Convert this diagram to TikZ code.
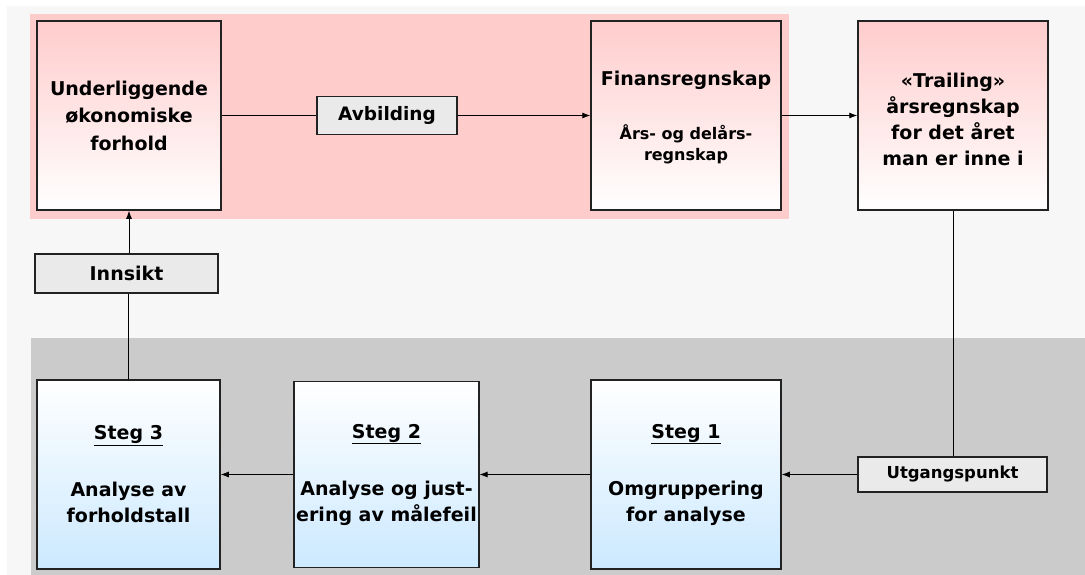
\documentclass[tikz,border=0pt]{standalone}
\usepackage{fontspec}
\setmainfont{DejaVu Sans}
\usetikzlibrary{arrows.meta}
\definecolor{pagebg}{HTML}{F7F7F7}
\definecolor{pinkband}{HTML}{FFCCCC}
\definecolor{grayband}{HTML}{CBCBCB}
\definecolor{bluebot}{HTML}{CCE9FF}
\definecolor{tagfill}{HTML}{EAEAEA}
\definecolor{edge}{HTML}{222222}
\newcommand{\smalltxt}{\fontsize{16}{20}\selectfont}
\begin{document}
\begin{tikzpicture}[x=1pt,y=-1pt,
  bigbox/.style={draw=edge, line width=1.5pt, rectangle, inner sep=2pt,
    minimum width=184pt, minimum height=189pt, align=center,
    font=\bfseries\fontsize{19}{26}\selectfont},
  pinkbox/.style={bigbox, top color=pinkband, bottom color=white},
  bluebox/.style={bigbox, top color=white, bottom color=bluebot},
  tag/.style={draw=edge, line width=1.2pt, fill=tagfill, rectangle, inner sep=0pt,
    align=center},
  link/.style={draw=black, line width=0.9pt},
  arr/.style={link, -{Latex[length=8pt,width=6pt]}}]

% background panels
\fill[white] (0,0) rectangle (1085,575);
\fill[pagebg] (7,6) rectangle (1085,575);
\fill[pinkband] (30,14) rectangle (789,219);
\fill[grayband] (31,338) rectangle (1085,575);

% upper row
\node[pinkbox, font=\bfseries\fontsize{19}{27.5}\selectfont] (b1) at (129,115.5)
  {Underliggende\\økonomiske\\forhold};
\node[pinkbox, minimum width=190pt] (fin) at (686,115.5)
  {\rule{0pt}{19pt}Finansregnskap\\[28pt]{\smalltxt Års- og delårs-}\\[-5pt]{\smalltxt regnskap}};
\node[pinkbox, minimum width=190pt] (trail) at (953,115.5)
  {\rule{0pt}{22pt}«Trailing»\\årsregnskap\\for det året\\man er inne i};
\node[tag, minimum width=140pt, minimum height=38pt, font=\bfseries\fontsize{18.5}{22}\selectfont]
  (avb) at (387,115.5) {Avbilding};

% lower row
\node[bluebox, minimum width=190pt] (s1) at (686,474.5)
  {\underline{Steg 1}\\[31pt]Omgruppering\\for analyse};
\node[bluebox, minimum width=183pt, minimum height=186pt] (s2) at (386.5,474.5)
  {\underline{Steg 2}\\[31pt]Analyse og just-\\ering av målefeil};
\node[bluebox, minimum width=183pt] (s3) at (128.5,474.5)
  {\underline{Steg 3}\\[31pt]Analyse av\\forholdstall};
\node[tag, minimum width=183pt, minimum height=39pt, font=\bfseries\fontsize{19}{22}\selectfont]
  (inn) at (126.5,273.5) {Innsikt};
\node[tag, minimum width=189pt, minimum height=35pt, font=\bfseries\fontsize{16.5}{20}\selectfont]
  (utg) at (952.5,474.5) {Utgangspunkt};

% connectors
\draw[link] (b1.east) -- (avb.west);
\draw[arr] (avb.east) -- (fin.west);
\draw[arr] (fin.east) -- (trail.west);
\draw[link] (trail.south) -- (utg.north -| trail.south);
\draw[arr] (utg.west) -- (s1.east);
\draw[arr] (s1.west) -- (s2.east);
\draw[arr] (s2.west) -- (s3.east);
\draw[link] (s3.north) -- (s3.north |- inn.south);
\draw[arr] (b1.south |- inn.north) -- (b1.south);
\end{tikzpicture}
\end{document}
